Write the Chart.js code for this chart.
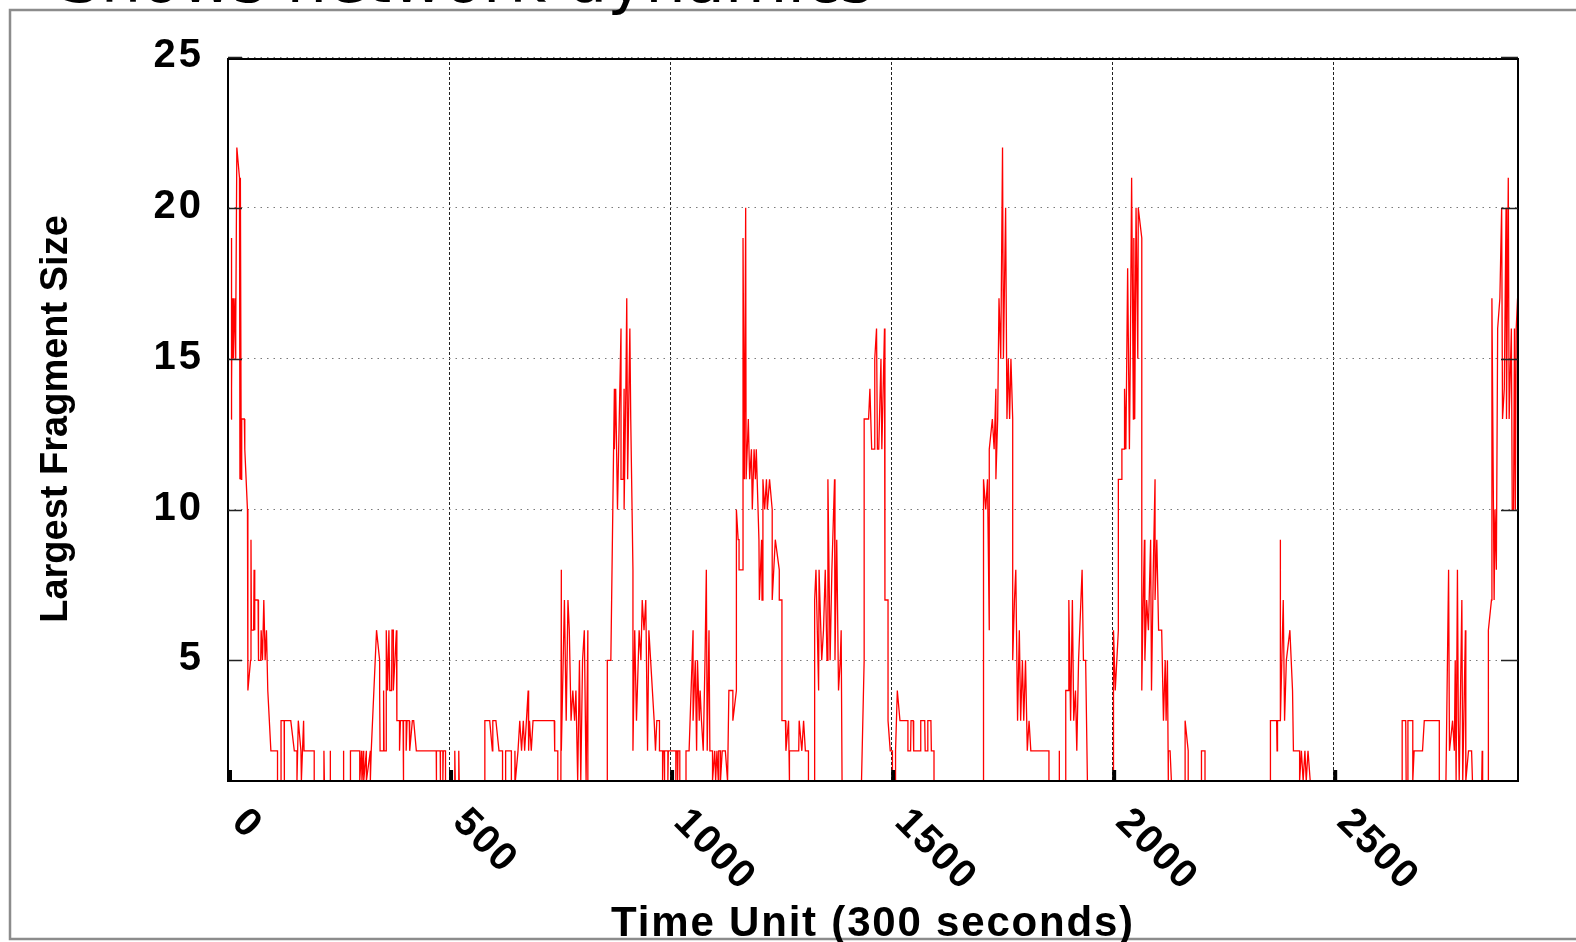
<!DOCTYPE html>
<html>
<head>
<meta charset="utf-8">
<title>Largest Fragment Size</title>
<script src="https://cdn.jsdelivr.net/npm/chart.js@4.4.1/dist/chart.umd.min.js"></script>
<style>
  html, body { margin: 0; padding: 0; background: #fff; }
  #wrap { position: relative; width: 1576px; height: 942px; overflow: hidden; }
</style>
</head>
<body>
<div id="wrap"><canvas id="fragChart" width="1576" height="942"></canvas></div>
<script>
const heading = 'Shows network dynamics';
const xAxisLabel = 'Time Unit (300 seconds)';
const yAxisLabel = 'Largest Fragment Size';
const timeTicks = [0, 500, 1000, 1500, 2000, 2500];
const sizeTicks = [5, 10, 15, 20, 25];

// [time unit, largest fragment size]
const fragmentTrace = [
  [7,13],[7.5,19],[8.5,14],[9.5,17],[10.5,15],[11.5,17],[12.5,15],[14,16],[16,17],[17,15],[18,16],
  [20,22],[26,21],[27,11],[28,21],[30,11],[31,13],[37,13],[38,12],[44,10],[45,4],[51,5],[52,9],
  [53,6],[58,6],[59,8],[60,6],[61,7],[68,7],[69,5],[74,5],[75,6],[78,5],[81,7],[84,5],[87,6],
  [90,4],[97,2],[112,2],[112,1],[120,1],[120,3],[127,3],[127,1],[128,3],[142,3],[150,2],[156,2],
  [156,1],[159,3],[165,2],[166,1],[171,3],[172,2],[195,2],[195,1],[217,1],[217,2],[218,1],[231,1],
  [231,2],[232,1],[261,1],[261,2],[262,1],[277,1],[277,2],[298,2],[298,1],[302,2],[303,1],[307,2],
  [307,1],[313,2],[313,1],[322,2],[322,1],[324,2],[336,6],[343,5],[343,4],[344,2],[352,2],[352,4],
  [353,2],[358,2],[358,6],[361,4],[364,6],[366,4],[370,4],[371,6],[374,6],[374,4],[381,6],[382,3],
  [388,3],[388,2],[390,3],[396,3],[396,1],[398,3],[403,3],[403,2],[405,3],[410,3],[411,2],[417,3],
  [420,3],[426,2],[471,2],[471,1],[472,2],[480,2],[480,1],[481,2],[486,2],[486,1],[487,2],[492,2],
  [492,1],[513,1],[513,2],[514,1],[522,1],[522,2],[523,1],[581,1],[581,3],[592,3],[598,2],[599,3],
  [606,3],[613,2],[621,2],[621,1],[628,1],[628,2],[641,2],[641,1],[649,1],[649,2],[650,1],[656,2],
  [660,3],[664,2],[668,3],[671,2],[675,3],[679,4],[680,2],[682,3],[686,2],[690,3],[696,3],[738,3],
  [739,2],[746,2],[746,1],[753,1],[754,8],[754,2],[761,7],[765,3],[769,7],[772,6],[776,3],[780,4],
  [784,3],[787,4],[791,1],[795,5],[798,1],[802,5],[806,6],[810,1],[814,6],[814,1],[858,1],[858,5],
  [866,5],[874,14],[874,12],[877,14],[881,10],[885,13],[889,16],[889,11],[894,11],[896,14],[896,10],
  [900,14],[902,17],[904,11],[909,16],[911,13],[916,8],[916,2],[920,6],[924,3],[930,6],[934,5],
  [937,7],[941,6],[945,7],[949,2],[952,6],[964,3],[967,2],[970,3],[976,3],[976,2],[983,2],[983,1],
  [984,2],[987,2],[987,1],[988,2],[995,2],[995,1],[996,2],[1013,2],[1013,1],[1014,2],[1017,2],
  [1017,1],[1018,2],[1022,2],[1022,1],[1036,1],[1036,2],[1043,2],[1052,6],[1052,3],[1057,5],
  [1060,2],[1062,5],[1066,3],[1068,4],[1071,3],[1075,2],[1079,5],[1082,8],[1084,2],[1088,6],
  [1090,2],[1096,2],[1096,1],[1101,2],[1103,1],[1106,2],[1109,1],[1110,2],[1114,2],[1114,1],
  [1118,2],[1125,2],[1130,1],[1133,4],[1142,4],[1142,3],[1150,4],[1150,10],[1154,9],[1156,9],
  [1156,8],[1165,8],[1165,19],[1168,11],[1171,20],[1172,11],[1177,13],[1180,11],[1184,12],
  [1186,10],[1190,12],[1193,11],[1195,12],[1201,9],[1202,7],[1207,9],[1208,7],[1210,11],[1214,10],
  [1218,11],[1220,10],[1225,11],[1231,10],[1231,7],[1238,9],[1247,8],[1247,7],[1253,7],[1253,3],
  [1261,3],[1262,2],[1268,3],[1270,1],[1270,2],[1291,2],[1292,3],[1298,2],[1302,3],[1306,2],
  [1313,2],[1313,1],[1327,1],[1327,7],[1330,8],[1336,4],[1337,8],[1343,5],[1347,6],[1351,8],
  [1355,5],[1357,11],[1362,5],[1366,8],[1372,11],[1373,5],[1377,9],[1381,4],[1385,5],[1387,6],
  [1389,1],[1433,1],[1439,5],[1439,13],[1449,13],[1452,14],[1456,12],[1462,12],[1463,15],[1467,16],
  [1469,12],[1472,12],[1477,15],[1479,12],[1485,16],[1486,7],[1493,7],[1493,3],[1498,2],[1503,2],
  [1503,1],[1510,1],[1510,2],[1514,4],[1520,3],[1538,3],[1538,2],[1544,2],[1545,3],[1550,3],
  [1551,2],[1567,2],[1567,3],[1576,3],[1577,2],[1583,2],[1583,3],[1590,3],[1591,2],[1597,2],
  [1597,1],[1709,1],[1709,11],[1714,10],[1718,11],[1722,6],[1722,12],[1729,13],[1733,12],
  [1737,14],[1737,11],[1741,13],[1744,17],[1748,15],[1752,22],[1754,15],[1759,20],[1762,13],
  [1765,15],[1768,13],[1771,15],[1775,13],[1775,5],[1779,7],[1782,8],[1786,3],[1790,6],[1793,3],
  [1797,5],[1800,3],[1804,5],[1808,2],[1812,3],[1816,2],[1857,2],[1857,1],[1880,1],[1880,2],
  [1881,1],[1895,1],[1895,4],[1902,4],[1902,7],[1906,3],[1910,7],[1913,3],[1917,4],[1920,2],
  [1924,5],[1932,8],[1935,5],[1940,5],[1944,1],[2003,1],[2003,6],[2007,4],[2014,6],[2014,11],
  [2022,11],[2022,12],[2028,12],[2028,14],[2031,12],[2035,18],[2039,12],[2041,15],[2044,21],
  [2048,13],[2049,19],[2051,13],[2054,20],[2058,15],[2059,20],[2067,19],[2067,4],[2069,6],[2073,9],
  [2074,5],[2078,7],[2082,6],[2087,9],[2089,4],[2093,8],[2097,11],[2097,7],[2101,9],[2105,6],
  [2112,6],[2116,3],[2120,5],[2122,3],[2125,5],[2127,1],[2127,2],[2131,2],[2134,1],[2165,1],
  [2165,3],[2172,2],[2172,1],[2202,1],[2202,2],[2210,2],[2210,1],[2358,1],[2358,3],[2372,3],
  [2373,2],[2374,3],[2380,3],[2380,9],[2381,3],[2387,7],[2390,3],[2394,5],[2402,6],[2408,4],
  [2410,2],[2424,2],[2424,1],[2428,2],[2432,1],[2436,2],[2439,1],[2443,2],[2448,1],[2656,1],
  [2656,3],[2664,3],[2665,1],[2669,1],[2669,3],[2680,3],[2680,1],[2683,2],[2702,2],[2706,3],
  [2740,3],[2740,1],[2755,1],[2761,8],[2763,2],[2770,3],[2774,2],[2776,5],[2778,1],[2781,8],
  [2783,3],[2785,1],[2791,7],[2793,1],[2799,6],[2800,1],[2806,2],[2813,2],[2815,1],[2836,1],
  [2837,2],[2838,1],[2851,1],[2851,6],[2858,7],[2859,17],[2864,7],[2866,10],[2869,8],[2872,16],
  [2877,17],[2881,20],[2883,13],[2887,14],[2891,20],[2892,13],[2896,21],[2898,13],[2903,16],
  [2905,10],[2908,10],[2910,16],[2912,10],[2914,16],[2917,17]
];

const labelFont = 'bold 40px "Liberation Sans", Arial, sans-serif';

// frame, inward ticks, rotated labels and titles in the old plotting style
const plotDecor = {
  id: 'plotDecor',
  afterDraw(chart) {
    const { ctx, chartArea: area, scales } = chart;
    const xs = scales.x, ys = scales.y;
    ctx.save();

    // outer figure box (runs off the right edge)
    ctx.strokeStyle = '#8c8c8c';
    ctx.lineWidth = 2.5;
    ctx.beginPath();
    ctx.moveTo(1580, 10); ctx.lineTo(10, 10); ctx.lineTo(10, 939); ctx.lineTo(1580, 939);
    ctx.stroke();

    // heading sits above the box and is mostly clipped
    ctx.fillStyle = '#000';
    ctx.font = '64px "DejaVu Sans", sans-serif';
    ctx.textAlign = 'left';
    ctx.textBaseline = 'alphabetic';
    ctx.fillText(heading, 60, 2);

    // plot border
    ctx.strokeStyle = '#000';
    ctx.lineWidth = 2;
    ctx.strokeRect(area.left, area.top + 2, area.right - area.left, area.bottom - area.top - 2);

    // y ticks on both sides
    ctx.lineWidth = 1.5;
    ctx.strokeStyle = '#222';
    sizeTicks.forEach(v => {
      const y = Math.round(ys.getPixelForValue(v)) + 0.5;
      ctx.beginPath();
      ctx.moveTo(area.left, y); ctx.lineTo(area.left + 14, y);
      ctx.moveTo(area.right - 17, y); ctx.lineTo(area.right, y);
      ctx.stroke();
    });

    // stubby x ticks along the bottom
    ctx.fillStyle = '#000';
    timeTicks.forEach(v => {
      const x = xs.getPixelForValue(v);
      ctx.fillRect(x, area.bottom - 11, 4, 11);
    });

    // y tick labels
    ctx.font = labelFont;
    ctx.letterSpacing = '3px';
    ctx.textAlign = 'right';
    ctx.textBaseline = 'middle';
    sizeTicks.forEach(v => {
      ctx.fillText(String(v), 204, ys.getPixelForValue(v) - 1);
    });

    // x tick labels, slanted downwards
    ctx.letterSpacing = '2px';
    ctx.textAlign = 'left';
    timeTicks.forEach(v => {
      const x = xs.getPixelForValue(v);
      ctx.save();
      ctx.translate(x + 10, area.bottom + 35);
      ctx.rotate(Math.PI / 4);
      ctx.fillText(String(v), 0, 0);
      ctx.restore();
    });

    // axis titles
    ctx.letterSpacing = '0px';
    ctx.font = 'bold 38px "Liberation Sans", Arial, sans-serif';
    ctx.textAlign = 'center';
    ctx.save();
    ctx.translate(57, (area.top + area.bottom) / 2);
    ctx.rotate(-Math.PI / 2);
    ctx.fillText(yAxisLabel, 0, 0);
    ctx.restore();

    ctx.font = 'bold 42px "Liberation Sans", Arial, sans-serif';
    ctx.letterSpacing = '1.8px';
    ctx.textBaseline = 'alphabetic';
    ctx.fillText(xAxisLabel, (area.left + area.right) / 2, 936);
    ctx.restore();
  }
};

new Chart(document.getElementById('fragChart'), {
  type: 'line',
  data: {
    datasets: [{
      label: yAxisLabel,
      data: fragmentTrace.map(([t, size]) => ({ x: t, y: size })),
      borderColor: '#ff0000',
      borderWidth: 1.3,
      pointRadius: 0,
      tension: 0,
      fill: false
    }]
  },
  options: {
    responsive: false,
    animation: false,
    devicePixelRatio: 1,
    layout: { padding: { left: 228, top: 57, right: 58, bottom: 161 } },
    plugins: { legend: { display: false }, tooltip: { enabled: false } },
    scales: {
      x: {
        type: 'linear',
        min: 0,
        max: 2918,
        afterBuildTicks: axis => { axis.ticks = timeTicks.map(v => ({ value: v })); },
        ticks: { display: false },
        grid: { color: '#222', lineWidth: 1, drawTicks: false },
        border: { display: false, dash: [3, 2] }
      },
      y: {
        min: 1,
        max: 25,
        afterBuildTicks: axis => { axis.ticks = sizeTicks.map(v => ({ value: v })); },
        ticks: { display: false },
        grid: { color: '#7a7a7a', lineWidth: 1, drawTicks: false },
        border: { display: false, dash: [1.5, 5] }
      }
    }
  },
  plugins: [plotDecor]
});
</script>
</body>
</html>
